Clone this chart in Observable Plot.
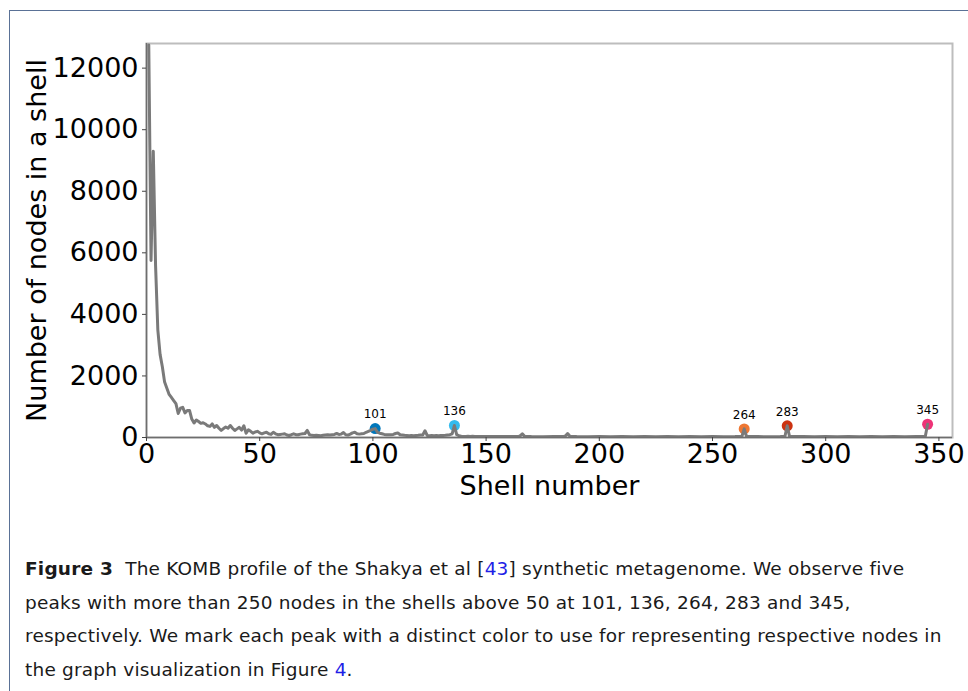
<!DOCTYPE html>
<html>
<head>
<meta charset="utf-8">
<script src="https://cdn.jsdelivr.net/npm/d3@7"></script>
<script src="https://cdn.jsdelivr.net/npm/@observablehq/plot@0.6"></script>
<style>
  html, body { margin: 0; padding: 0; background: #fff; width: 968px; height: 691px; overflow: hidden; }
  #border { position: absolute; left: 9px; top: 10px; width: 1200px; height: 1000px;
            border-left: 1.5px solid #5a7196; border-top: 1.5px solid #5a7196; }
  #chart { position: absolute; left: 0; top: 0; }
  #cap { position: absolute; left: 25px; top: 552px; font-family: "DejaVu Sans", sans-serif; font-size: 18.5px;
         letter-spacing: 0.2px; line-height: 33.7px; color: #1a1a1a; white-space: nowrap; }
  #cap .l { color: #1f1fe6; }
</style>
</head>
<body>
<div id="border"></div>
<div id="chart"></div>
<div id="cap"><b>Figure 3</b>&nbsp; The KOMB profile of the Shakya et al [<span class="l">43</span>] synthetic metagenome. We observe five<br>peaks with more than 250 nodes in the shells above 50 at 101, 136, 264, 283 and 345,<br>respectively. We mark each peak with a distinct color to use for representing respective nodes in<br>the graph visualization in Figure <span class="l">4</span>.</div>
<script>
// KOMB profile: shell number vs number of nodes in that shell
const shells = [
  1,2,3,4,5,6,7,8,9,10,11,12,13,14,15,16,17,18,19,20,
  21,22,23,24,25,26,27,28,29,30,31,32,33,34,35,36,37,38,39,40,
  41,42,43,44,45,46,47,48,49,50,51,52,53,54,55,56,57,58,59,60,
  61,62,63,64,65,66,67,68,69,70,71,72,73,74,75,76,77,78,79,80,
  81,82,83,84,85,86,87,88,89,90,91,92,93,94,95,96,97,98,99,100,
  101,102,103,104,105,106,107,108,109,110,111,112,113,114,115,116,117,118,119,120,
  121,122,123,124,125,126,127,128,129,130,131,132,133,134,135,136,137,138,139,140,
  141,142,143,144,145,150,155,160,164,165,166,167,170,175,180,184,185,186,187,190,
  195,200,205,210,215,220,225,230,235,240,245,250,255,260,263,264,265,270,275,280,
  282,283,284,290,295,300,305,310,315,320,325,330,335,340,344,345
];
const nodes = [
  12750,5750,9300,5600,3500,2700,2300,1800,1600,1400,1300,1200,1100,780,950,980,800,880,880,600,
  470,570,520,460,480,440,380,360,440,330,390,300,230,290,340,300,390,300,230,280,
  330,240,380,140,250,200,140,180,200,150,120,150,170,120,100,170,120,90,100,110,
  120,80,65,90,120,90,90,110,120,130,230,90,70,65,70,65,60,70,80,90,
  80,90,100,130,100,110,160,90,80,110,150,170,120,110,120,130,170,200,230,270,
  290,170,140,120,100,90,90,90,100,130,150,90,80,70,65,60,65,60,65,70,
  80,80,220,65,60,65,60,65,60,65,65,70,80,90,120,390,90,60,40,30,
  35,40,35,40,30,35,30,35,30,50,120,40,30,25,30,30,50,130,40,30,
  25,30,25,30,25,30,25,30,25,30,25,30,25,30,40,280,40,30,25,30,
  40,380,40,30,25,30,25,30,25,30,25,30,25,30,40,430
];
const profile = shells.map((s, i) => ({shell: s, n: nodes[i]}));

// highlighted peaks
const peakShells = [101, 136, 264, 283, 345];
const peakNodes  = [290, 390, 280, 380, 430];
const peakColors = ["#0077BB", "#33BBEE", "#EE7733", "#CC3311", "#EE3377"];
const peaks = peakShells.map((s, i) => ({shell: s, n: peakNodes[i], color: peakColors[i], label: String(s)}));

const xTicks = [0, 50, 100, 150, 200, 250, 300, 350];
const yTicks = [0, 2000, 4000, 6000, 8000, 10000, 12000];
const xLabel = "Shell number";
const yLabel = "Number of nodes in a shell";

const chart = Plot.plot({
  width: 968,
  height: 530,
  marginLeft: 146,
  marginRight: 16,
  marginTop: 43,
  marginBottom: 93,
  style: {fontFamily: "DejaVu Sans", fontSize: "27px", color: "#000", background: "transparent"},
  x: {domain: [0, 356], ticks: xTicks},
  y: {domain: [0, 12800], ticks: yTicks},
  marks: [
    Plot.frame({stroke: "#bdbdbd", strokeWidth: 2}),
    Plot.dot(peaks, {x: "shell", y: "n", r: 5.5, fill: "color", stroke: "none"}),
    Plot.line(profile, {x: "shell", y: "n", stroke: "#7a7a7a", strokeWidth: 3, clip: true}),
    Plot.ruleX([0], {stroke: "#6e6e6e", strokeWidth: 1.5}),
    Plot.ruleY([0], {stroke: "#6e6e6e", strokeWidth: 1.5}),
    Plot.text(peaks, {x: "shell", y: "n", text: "label", dy: -14, fontSize: 12, fill: "#000"}),
    Plot.axisX({ticks: xTicks, tickFormat: d => String(d), tickSize: 4, tickPadding: 2, label: null, stroke: "#444", fontSize: 27}),
    Plot.axisY({ticks: yTicks, tickFormat: d => String(d), tickSize: 4, tickPadding: 4, label: null, stroke: "#444", fontSize: 27}),
    Plot.text([yLabel], {frameAnchor: "left", dx: -109, rotate: -90, textAnchor: "middle", fontSize: 27, fill: "#000"}),
    Plot.text([xLabel], {frameAnchor: "bottom", dy: 57, textAnchor: "middle", fontSize: 27, fill: "#000"})
  ]
});
document.getElementById("chart").appendChild(chart);
</script>
</body>
</html>
